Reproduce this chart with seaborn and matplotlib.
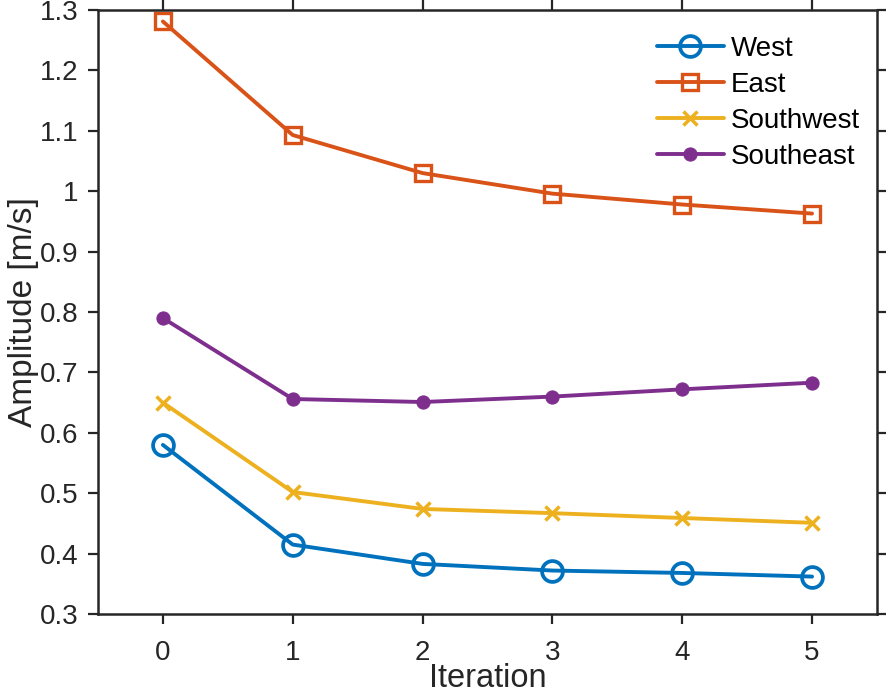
import pandas as pd
import matplotlib.pyplot as plt
import seaborn as sns

iterations = [0, 1, 2, 3, 4, 5]
west = [0.580, 0.415, 0.383, 0.372, 0.368, 0.362]
east = [1.281, 1.093, 1.030, 0.996, 0.978, 0.963]
southwest = [0.650, 0.502, 0.474, 0.467, 0.459, 0.451]
southeast = [0.790, 0.656, 0.651, 0.660, 0.672, 0.683]

series = ['West', 'East', 'Southwest', 'Southeast']
colors = ['#0072BD', '#D95319', '#EDB120', '#7E2F8E']

df = pd.DataFrame({
    'Iteration': iterations * 4,
    'Amplitude': west + east + southwest + southeast,
    'Region': [s for s in series for _ in iterations],
})

sns.set_style('ticks')
plt.rcParams['font.family'] = ['Liberation Sans', 'DejaVu Sans']

fig = plt.figure(figsize=(8.86, 6.95), dpi=100)
ax = fig.add_axes([0.1106, 0.1165, 0.8792, 0.8691])

styles = {
    'West': dict(marker='o', markersize=15, markerfacecolor='none', markeredgewidth=2.7),
    'East': dict(marker='s', markersize=11, markerfacecolor='none', markeredgewidth=2.4),
    'Southwest': dict(marker='x', markersize=10, markeredgewidth=2.5),
    'Southeast': dict(marker='o', markersize=9.5),
}

for name, col in zip(series, colors):
    sub = df[df['Region'] == name]
    mfc = styles[name].pop('markerfacecolor', col)
    sns.lineplot(data=sub, x='Iteration', y='Amplitude', ax=ax, color=col,
                 linewidth=2.8, markeredgecolor=col, markerfacecolor=mfc,
                 label=name, **styles[name])

ax.set_xlim(-0.5, 5.5)
ax.set_ylim(0.3, 1.3)
ax.set_xticks(iterations)
ax.set_yticks([0.3, 0.4, 0.5, 0.6, 0.7, 0.8, 0.9, 1.0, 1.1, 1.2, 1.3])
ax.set_yticklabels(['0.3', '0.4', '0.5', '0.6', '0.7', '0.8', '0.9', '1', '1.1', '1.2', '1.3'])
ax.tick_params(axis='both', which='both', direction='out', length=7.5, width=1.6,
               labelsize=20, colors='#262626', top=True, right=True)
ax.tick_params(axis='x', pad=11)
ax.tick_params(axis='y', pad=6.5)
for sp in ax.spines.values():
    sp.set_visible(True)
    sp.set_linewidth(1.8)
    sp.set_color('#262626')

ax.set_xlabel('Iteration', fontsize=23.5, color='#262626', labelpad=-2)
ax.set_ylabel('Amplitude [m/s]', fontsize=24, color='#262626', labelpad=1)

ax.legend(loc='upper right', frameon=False, fontsize=20, handlelength=2.4,
          handletextpad=0.25, labelspacing=0.36, bbox_to_anchor=(1.01, 0.998),
          labelcolor='black')

fig.savefig('out.png', dpi=100)
